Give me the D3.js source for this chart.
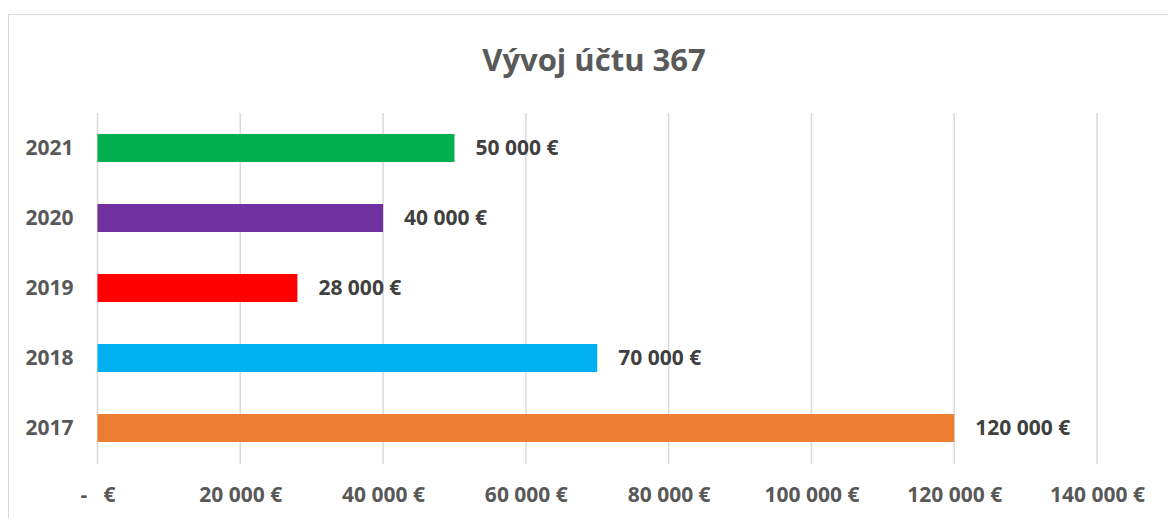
<!DOCTYPE html>
<html>
<head>
<meta charset="utf-8">
<script src="https://cdn.jsdelivr.net/npm/d3@7"></script>
<style>
  body { margin: 0; background: #fff; }
  text { font-family: "Open Sans", "Noto Sans", sans-serif; font-weight: bold; }
</style>
</head>
<body>
<div id="container"></div>
<script>
// chart data
const years = ["2021", "2020", "2019", "2018", "2017"]
const amounts = [50000, 40000, 28000, 70000, 120000]
const barColors = ["#00B050", "#7030A0", "#FF0000", "#00B0F0", "#ED7D31"]
const xTicks = [0, 20000, 40000, 60000, 80000, 100000, 120000, 140000]

const w = 1168
const h = 518

const svg = d3.select("#container")
    .append("svg")
    .attr("width", w)
    .attr("height", h)

// chart frame (runs off right and bottom edges)
svg.append("rect")
    .attr("x", 8.5)
    .attr("y", 14.5)
    .attr("width", 1200)
    .attr("height", 600)
    .attr("fill", "white")
    .attr("stroke", "#d9d9d9")

svg.append("text")
    .attr("x", 594)
    .attr("y", 71)
    .attr("text-anchor", "middle")
    .attr("fill", "#595959")
    .style("font-size", "31px")
    .text("Vývoj účtu 367")

const xScale = d3.scaleLinear()
    .domain([0, 140000])
    .range([97.5, 1097])

const yScale = d3.scaleBand()
    .domain(years)
    .range([113, 463])
    .paddingInner(0.6)
    .paddingOuter(0.3)

const fmt = (v) => v === 0 ? "-   €" : d3.format(",")(v).replace(/,/g, " ") + " €"

// gridlines
svg.append("g")
    .selectAll("line")
    .data(xTicks)
    .enter()
    .append("line")
    .attr("x1", (d) => xScale(d))
    .attr("x2", (d) => xScale(d))
    .attr("y1", 113)
    .attr("y2", 464)
    .attr("stroke", "#d9d9d9")
    .attr("stroke-width", 1.5)

// x axis labels
const xAxis = d3.axisBottom(xScale)
    .tickValues(xTicks)
    .tickFormat(fmt)
    .tickSize(0)
    .tickPadding(0)
const gx = svg.append("g")
    .attr("transform", "translate(0, 487)")
    .call(xAxis)
gx.select(".domain").remove()
gx.selectAll("text")
    .attr("fill", "#595959")
    .style("font-size", "21px")
    .style("white-space", "pre")
    .attr("xml:space", "preserve")

// y axis labels
const yAxis = d3.axisLeft(yScale)
    .tickSize(0)
    .tickPadding(24)
const gy = svg.append("g")
    .attr("transform", "translate(97.5, 0)")
    .call(yAxis)
gy.select(".domain").remove()
gy.selectAll("text")
    .attr("fill", "#595959")
    .style("font-size", "21px")

// bars
svg.selectAll(".bar")
    .data(years)
    .enter()
    .append("rect")
    .classed("bar", true)
    .attr("x", xScale(0))
    .attr("y", (d) => yScale(d))
    .attr("width", (d, i) => xScale(amounts[i]) - xScale(0))
    .attr("height", yScale.bandwidth())
    .attr("fill", (d, i) => barColors[i])

// data labels
svg.selectAll(".lbl")
    .data(years)
    .enter()
    .append("text")
    .classed("lbl", true)
    .attr("x", (d, i) => xScale(amounts[i]) + 21)
    .attr("y", (d) => yScale(d) + yScale.bandwidth() / 2)
    .attr("dy", "0.35em")
    .attr("fill", "#404040")
    .style("font-size", "21px")
    .text((d, i) => fmt(amounts[i]))
</script>
</body>
</html>
